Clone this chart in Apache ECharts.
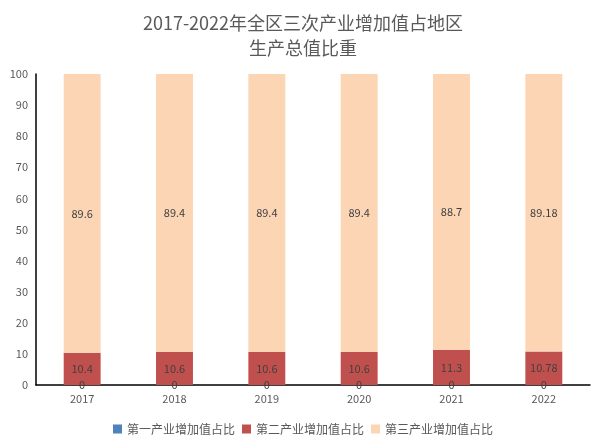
<!DOCTYPE html>
<html><head><meta charset="utf-8">
<script src="https://cdn.jsdelivr.net/npm/echarts@6/dist/echarts.min.js"></script>
<style>html,body{margin:0;padding:0;background:#fff}#c{width:606px;height:448px}</style>
</head><body><div id="c"></div>
<script>
var categories = ['2017','2018','2019','2020','2021','2022'];
var seriesNames = ['第一产业增加值占比','第二产业增加值占比','第三产业增加值占比'];
var primary = [0,0,0,0,0,0];
var secondary = [10.4,10.6,10.6,10.6,11.3,10.78];
var tertiary = [89.6,89.4,89.4,89.4,88.7,89.18];
var yTicks = [0,10,20,30,40,50,60,70,80,90,100];
var colors = ['#4f81bd','#c0504d','#fcd5b5'];
var font = '"Noto Sans CJK SC", "Noto Sans", sans-serif';
var chart = echarts.init(document.getElementById('c'));
function lbl(){return {show:true,position:'inside',color:'#404040',fontSize:11,fontFamily:font};}
chart.setOption({
  animation:false,
  color:colors,
  title:{text:'2017-2022年全区三次产业增加值占地区\n生产总值比重',left:'center',top:6,
    textStyle:{color:'#595959',fontSize:18,fontWeight:'normal',fontFamily:font,lineHeight:25}},
  legend:{bottom:8,left:'center',itemWidth:9,itemHeight:9,itemGap:7,icon:'rect',
    textStyle:{color:'#595959',fontSize:12,fontFamily:font},data:seriesNames},
  grid:{left:36,right:16,top:74,bottom:63,containLabel:false},
  xAxis:{type:'category',data:categories,axisLine:{lineStyle:{color:'#000',width:1.5}},
    axisTick:{show:false},axisLabel:{color:'#595959',fontSize:11,fontFamily:font,margin:8}},
  yAxis:{type:'value',min:yTicks[0],max:yTicks[yTicks.length-1],interval:10,
    axisLine:{show:true,lineStyle:{color:'#000',width:1.5}},axisTick:{show:false},
    splitLine:{show:false},axisLabel:{color:'#595959',fontSize:11,fontFamily:font,margin:8}},
  series:[
    {name:seriesNames[0],type:'bar',stack:'a',data:primary,barWidth:'40%',label:lbl()},
    {name:seriesNames[1],type:'bar',stack:'a',data:secondary,barWidth:'40%',label:lbl()},
    {name:seriesNames[2],type:'bar',stack:'a',data:tertiary,barWidth:'40%',label:lbl()}
  ]
});
</script></body></html>
